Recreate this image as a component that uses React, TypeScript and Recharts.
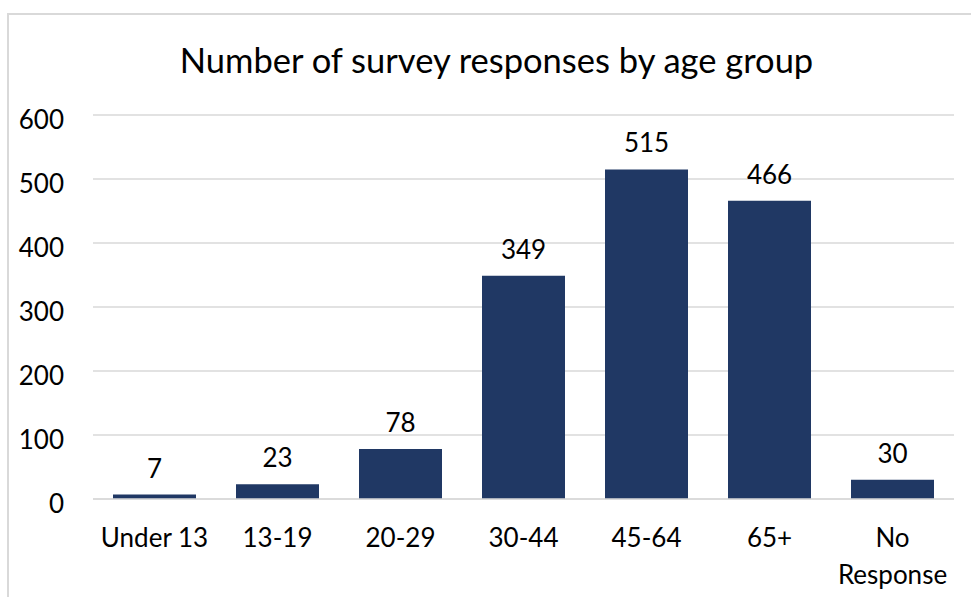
import * as React from "react";
import { BarChart, Bar, XAxis, YAxis, CartesianGrid, LabelList } from "recharts";

const AGE_GROUPS = ["Under 13", "13-19", "20-29", "30-44", "45-64", "65+", "No Response"];
const RESPONSES = [7, 23, 78, 349, 515, 466, 30];
const Y_TICKS = [0, 100, 200, 300, 400, 500, 600];

const BAR_COLOR = "#203864";
const GRID_COLOR = "#d9d9d9";
const FONT = "Lato, 'Noto Sans', sans-serif";

const data = AGE_GROUPS.map((group, i) => ({ group, count: RESPONSES[i] }));

function XTick(props: any) {
  const { x, y, payload } = props;
  const label: string = payload.value;
  // long labels wrap onto two lines like the original
  const lines = label.length > 10 ? label.split(" ") : [label];
  return (
    <text x={x} y={y + 48} textAnchor="middle" fill="#000" fontSize={26} fontFamily={FONT}>
      {lines.map((line, i) => (
        <tspan key={i} x={x} dy={i === 0 ? 0 : 37}>
          {line}
        </tspan>
      ))}
    </text>
  );
}

function YTick(props: any) {
  const { y, payload } = props;
  return (
    <text x={64} y={y + 14} textAnchor="end" fill="#000" fontSize={26} fontFamily={FONT}>
      {payload.value}
    </text>
  );
}

export default function App() {
  return (
    <div style={{ position: "absolute", left: 0, top: 0, width: 971, height: 597, overflow: "hidden", background: "#fff" }}>
      <div
        style={{
          position: "absolute",
          left: 7,
          top: 13,
          width: 990,
          height: 620,
          border: `2px solid ${GRID_COLOR}`,
          boxSizing: "border-box",
        }}
      />
      <div
        style={{
          position: "absolute",
          left: 0,
          top: 43,
          width: 993,
          textAlign: "center",
          fontFamily: FONT,
          fontSize: 34.5,
          lineHeight: "33px",
          color: "#000",
        }}
      >
        Number of survey responses by age group
      </div>
      <div style={{ position: "absolute", left: 0, top: 0 }}>
        <BarChart
          width={971}
          height={597}
          data={data}
          margin={{ top: 115, right: 17, bottom: 38, left: 33 }}
        >
          <CartesianGrid vertical={false} stroke={GRID_COLOR} strokeWidth={1.5} />
          <XAxis
            dataKey="group"
            height={60}
            axisLine={{ stroke: GRID_COLOR, strokeWidth: 1.5 }}
            tickLine={false}
            tickSize={0}
            tickMargin={0}
            interval={0}
            tick={<XTick />}
          />
          <YAxis
            width={60}
            domain={[0, 600]}
            ticks={Y_TICKS}
            axisLine={false}
            tickLine={false}
            tickSize={0}
            tick={<YTick />}
          />
          <Bar dataKey="count" fill={BAR_COLOR} barSize={83} isAnimationActive={false}>
            <LabelList
              dataKey="count"
              position="top"
              offset={17}
              fill="#000"
              fontSize={26}
              fontFamily={FONT}
            />
          </Bar>
        </BarChart>
      </div>
    </div>
  );
}
